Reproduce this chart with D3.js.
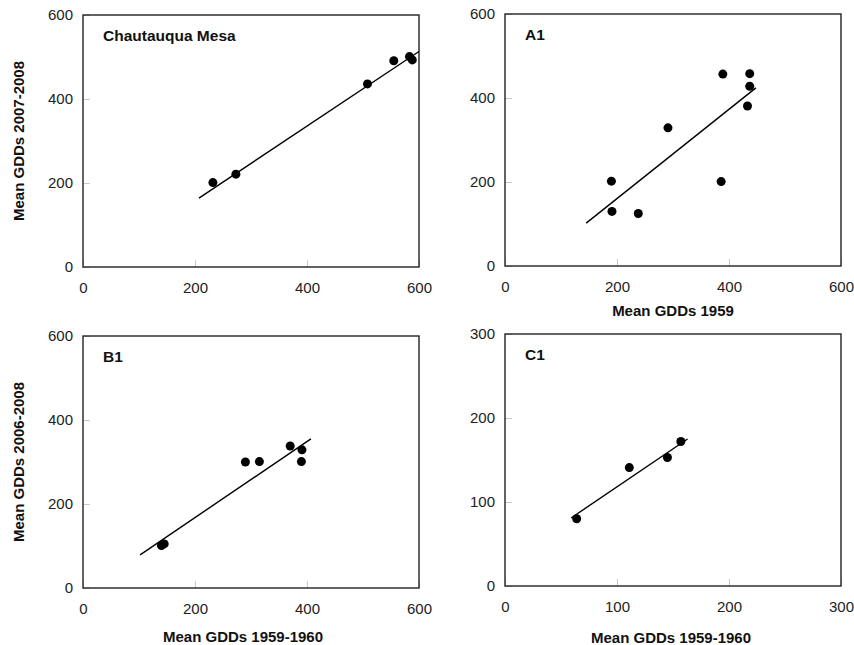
<!DOCTYPE html>
<meta charset="utf-8">
<style>
body { margin: 0; background: #fff; }
svg { font-family: "Liberation Sans", Arial, sans-serif; }
.tick text { font-size: 15px; fill: #222; }
.tick line { stroke: #c8c8c8; stroke-width: 1px; }
.frame { fill: none; stroke: #222; stroke-width: 1.4px; }
.fit { stroke: #000; stroke-width: 1.4px; }
.panel-title, .axis-title { font-weight: bold; font-size: 15px; fill: #111; }
.panel-title { font-size: 15.5px; }
</style>
<svg width="854" height="645"></svg>
<script src="https://d3js.org/d3.v7.min.js"></script>
<script>

// panel titles / axis ranges
var panelTitles = ["Chautauqua Mesa", "A1", "B1", "C1"];
var xTitles = ["", "Mean GDDs 1959", "Mean GDDs 1959-1960", "Mean GDDs 1959-1960"];
var yTitles = ["Mean GDDs 2007-2008", "", "Mean GDDs 2006-2008", ""];
var maxes = [600, 600, 600, 300];
var ticks600 = [0, 200, 400, 600];
var ticks300 = [0, 100, 200, 300];

// points
var chautauquaX = [232, 273, 508, 555, 583, 588];
var chautauquaY = [201, 221, 436, 491, 501, 493];
var a1X = [389, 437, 437, 433, 291, 190, 191, 238, 386];
var a1Y = [457, 458, 428, 381, 329, 202, 130, 125, 201];
var b1X = [140, 145, 290, 315, 370, 391, 390];
var b1Y = [101, 105, 300, 301, 338, 329, 301];
var c1X = [64, 111, 145, 157];
var c1Y = [80, 141, 153, 172];

// fitted line ends
var chautauquaFitX = [207, 600], chautauquaFitY = [164, 513];
var a1FitX = [145, 448], a1FitY = [102, 424];
var b1FitX = [102, 407], b1FitY = [79, 355];
var c1FitX = [59, 163], c1FitY = [81, 175];

var series = [
  {x: chautauquaX, y: chautauquaY, fx: chautauquaFitX, fy: chautauquaFitY},
  {x: a1X, y: a1Y, fx: a1FitX, fy: a1FitY},
  {x: b1X, y: b1Y, fx: b1FitX, fy: b1FitY},
  {x: c1X, y: c1Y, fx: c1FitX, fy: c1FitY}
];

// layout of each frame
var frames = [
  {left: 83, top: 15, xtOff: 0},
  {left: 505, top: 14, xtOff: 50},
  {left: 83, top: 336, xtOff: 54, xtShift: -8},
  {left: 505, top: 334, xtOff: 57, xtShift: -2}
];
var w = 336, h = 252;

var svg = d3.select("svg");

frames.forEach(function(f, i) {
  var g = svg.append("g").attr("transform", "translate(" + f.left + "," + f.top + ")");
  var tv = maxes[i] == 300 ? ticks300 : ticks600;

  var x = d3.scaleLinear().domain([0, maxes[i]]).range([0, w]),
      y = d3.scaleLinear().domain([0, maxes[i]]).range([h, 0]);

  g.append("g")
      .attr("transform", "translate(0," + h + ")")
      .call(d3.axisBottom(x).tickValues(tv).tickSizeInner(-7).tickSizeOuter(0).tickPadding(15))
      .call(function(a) { a.select(".domain").remove(); });

  g.append("g")
      .call(d3.axisLeft(y).tickValues(tv).tickSizeInner(-7).tickSizeOuter(0).tickPadding(10))
      .call(function(a) { a.select(".domain").remove(); });

  g.append("rect").attr("class", "frame")
      .attr("width", w).attr("height", h);

  var s = series[i];
  g.append("line").attr("class", "fit")
      .attr("x1", x(s.fx[0])).attr("y1", y(s.fy[0]))
      .attr("x2", x(s.fx[1])).attr("y2", y(s.fy[1]));

  g.selectAll("circle")
    .data(s.x)
    .enter().append("circle")
      .attr("cx", function(d) { return x(d); })
      .attr("cy", function(d, j) { return y(s.y[j]); })
      .attr("r", 4.5)
      .attr("fill", "#000");

  g.append("text").attr("class", "panel-title")
      .attr("x", 20).attr("y", 26)
      .text(panelTitles[i]);

  if (xTitles[i]) {
    g.append("text").attr("class", "axis-title")
        .attr("text-anchor", "middle")
        .attr("x", w / 2 + (f.xtShift || 0)).attr("y", h + f.xtOff)
        .text(xTitles[i]);
  }
  if (yTitles[i]) {
    g.append("text").attr("class", "axis-title")
        .attr("text-anchor", "middle")
        .attr("transform", "translate(" + (24 - f.left) + "," + (h / 2) + ") rotate(-90)")
        .text(yTitles[i]);
  }
});

</script>
